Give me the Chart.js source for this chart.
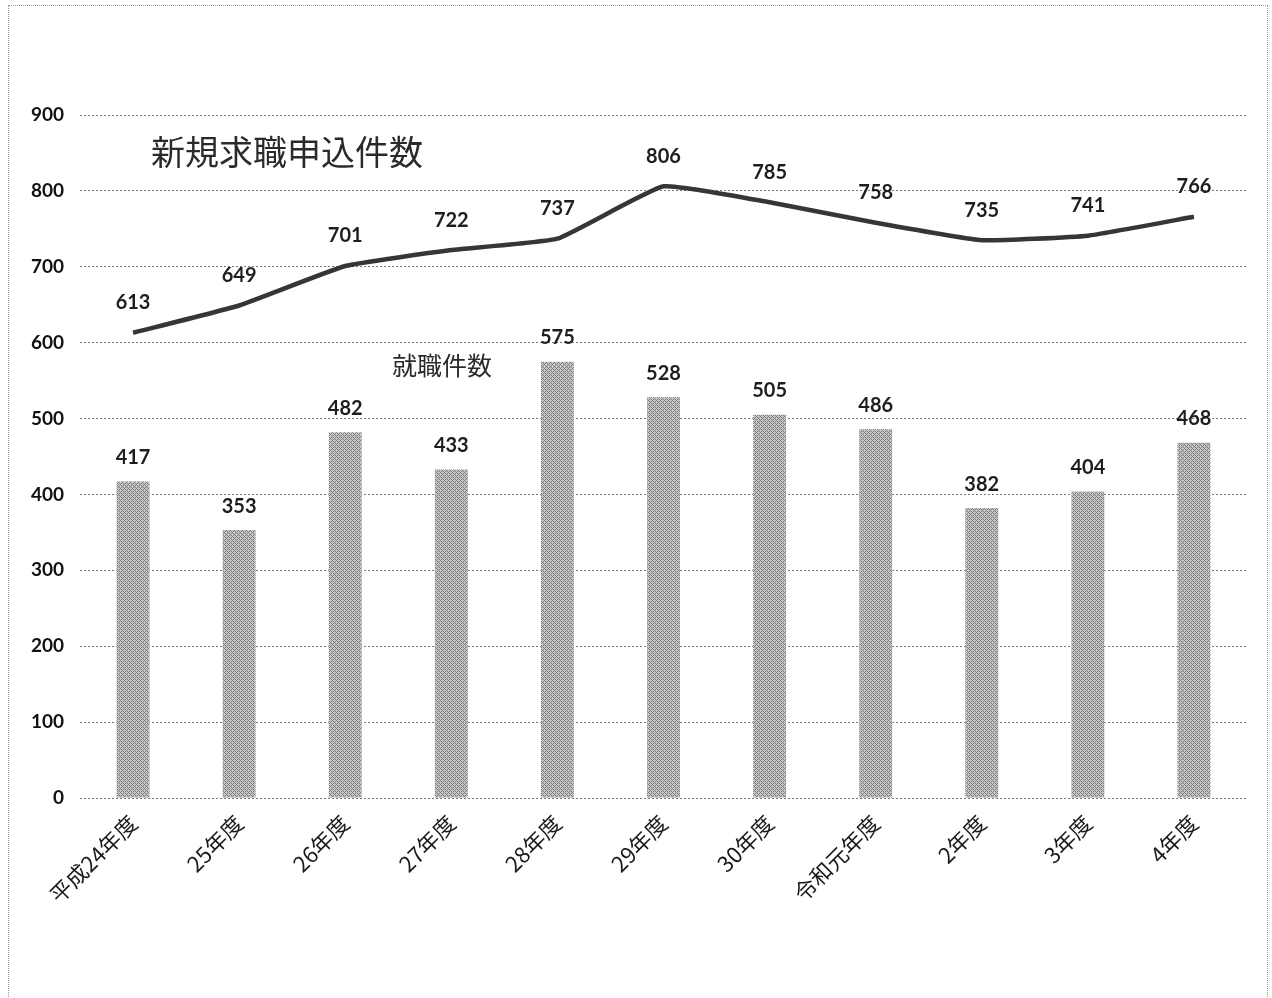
<!DOCTYPE html>
<html>
<head>
<meta charset="utf-8">
<script src="https://cdn.jsdelivr.net/npm/chart.js@4"></script>
<style>
  body { margin: 0; background: #fff; }
  #wrap { position: relative; width: 1272px; height: 998px; overflow: hidden; }
  #frame { position: absolute; left: 8px; top: 5px; width: 1258px; height: 1010px; border: 1px dotted #999; }
  .note { position: absolute; font-family: "Noto Sans CJK JP", sans-serif; color: #2a2a2a; white-space: nowrap; }
</style>
</head>
<body>
<div id="wrap">
  <div id="frame"></div>
  <canvas id="chart" width="1272" height="998"></canvas>
  <div class="note" id="t1" style="left:151px; top:126px; font-size:34px;">新規求職申込件数</div>
  <div class="note" id="t2" style="left:392px; top:346px; font-size:25px;">就職件数</div>
</div>
<script>
// data
const years = ['平成24年度', '25年度', '26年度', '27年度', '28年度', '29年度', '30年度', '令和元年度', '2年度', '3年度', '4年度'];
const applications = [613, 649, 701, 722, 737, 806, 785, 758, 735, 741, 766];  // 新規求職申込件数
const placements = [417, 353, 482, 433, 575, 528, 505, 486, 382, 404, 468];    // 就職件数

// cross hatch fill like the printed bars
function hatch() {
    const c = document.createElement('canvas');
    c.width = 4; c.height = 4;
    const g = c.getContext('2d');
    g.fillStyle = '#c6c6c6';
    g.fillRect(0, 0, 4, 4);
    g.fillStyle = '#7e7e7e';
    g.fillRect(0, 0, 1, 1); g.fillRect(2, 2, 1, 1);
    g.fillRect(1, 1, 1, 1); g.fillRect(3, 3, 1, 1);
    g.fillRect(3, 1, 1, 1); g.fillRect(1, 3, 1, 1);
    return g.createPattern(c, 'repeat');
}

const valueLabels = {
    id: 'valueLabels',
    afterDatasetsDraw(chart) {
        const ctx = chart.ctx;
        ctx.save();
        ctx.font = 'bold 20px Lato, sans-serif';
        ctx.fillStyle = '#1e1e1e';
        ctx.textAlign = 'center';
        ctx.textBaseline = 'middle';
        chart.data.datasets.forEach((ds, i) => {
            const meta = chart.getDatasetMeta(i);
            const off = ds.type === 'line' ? 30 : 24;
            meta.data.forEach((el, j) => {
                ctx.fillText(ds.data[j], el.x, el.y - off);
            });
        });
        ctx.restore();
    }
};

new Chart(document.getElementById('chart'), {
    data: {
        labels: years,
        datasets: [
            {
                type: 'line',
                label: '新規求職申込件数',
                data: applications,
                borderColor: '#363636',
                borderWidth: 4.5,
                tension: 0.12,
                pointRadius: 0,
                order: 0
            },
            {
                type: 'bar',
                label: '就職件数',
                data: placements,
                backgroundColor: hatch(),
                categoryPercentage: 1,
                barPercentage: 0.31,
                order: 1
            }
        ]
    },
    options: {
        responsive: false,
        animation: false,
        layout: { padding: { left: 20, right: 25, top: 115, bottom: 0 } },
        plugins: { legend: { display: false }, tooltip: { enabled: false } },
        scales: {
            x: {
                grid: { display: false },
                border: { display: false },
                ticks: {
                    minRotation: 45, maxRotation: 45, padding: 4,
                    color: '#1a1a1a',
                    font: { family: '"Noto Sans CJK JP", sans-serif', size: 22 }
                },
                afterFit: (s) => { s.height = 200; }
            },
            y: {
                min: 0, max: 900,
                ticks: {
                    stepSize: 100, padding: 16, color: '#111',
                    font: { family: 'Lato, sans-serif', size: 19, weight: 'bold' }
                },
                grid: { color: '#7a7a7a', lineWidth: 1, drawTicks: false },
                border: { display: false, dash: [2, 2] },
                afterFit: (s) => { s.width = 60; }
            }
        }
    },
    plugins: [valueLabels]
});
</script>
</body>
</html>
